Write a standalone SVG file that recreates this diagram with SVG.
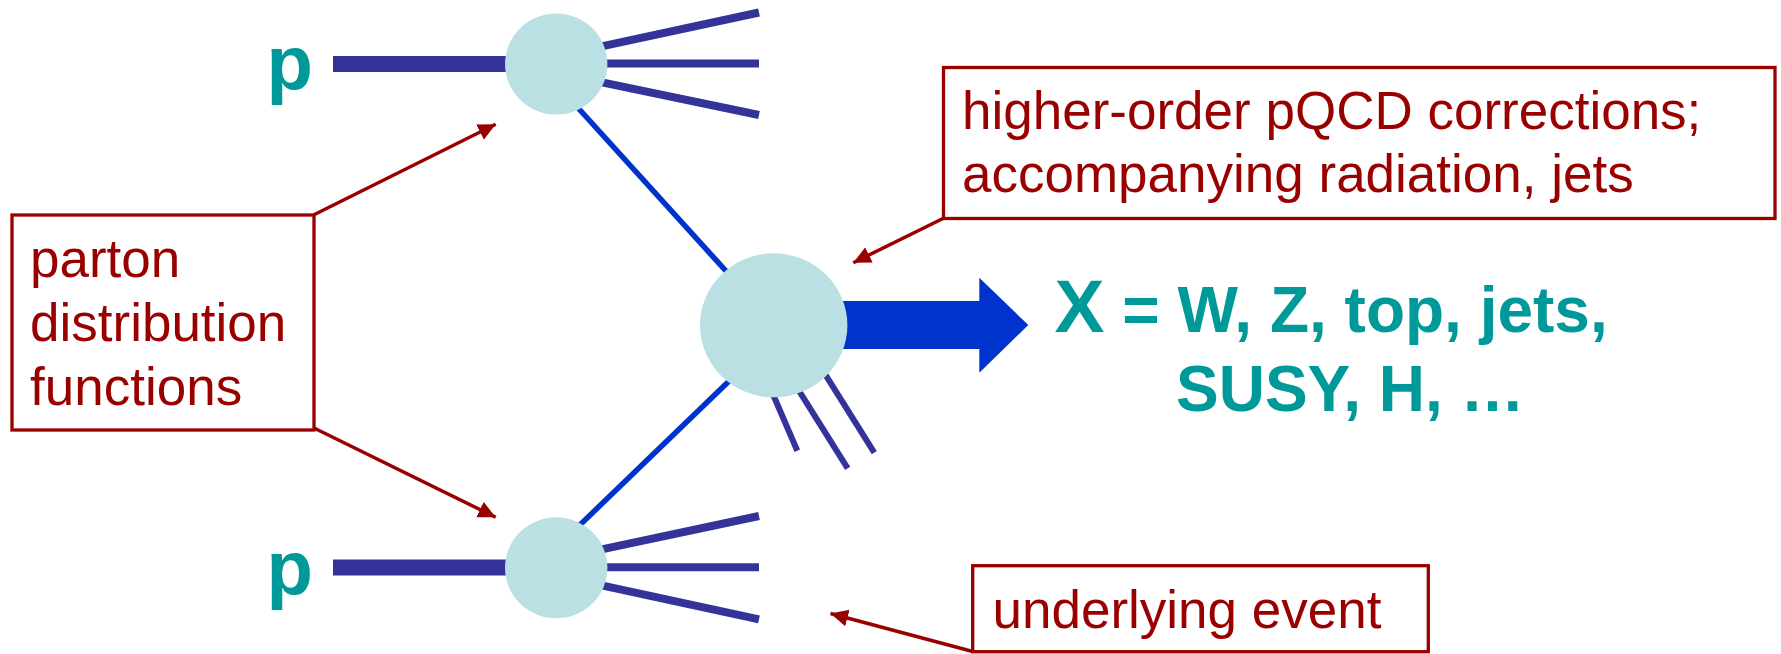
<svg xmlns="http://www.w3.org/2000/svg" width="1781" height="654" viewBox="0 0 1781 654">
  <defs>
    <style>
      .blob { fill: #BAE0E4; }
      .beam { stroke: #333399; stroke-width: 16; fill: none; }
      .jet { stroke: #333399; stroke-width: 8; fill: none; }
      .stub { stroke: #333399; stroke-width: 6; fill: none; }
      .parton { stroke: #0033CC; stroke-width: 5.5; fill: none; }
      .box { fill: #FFFFFF; stroke: #990000; stroke-width: 3.3; }
      .callout { stroke: #990000; stroke-width: 3.5; fill: none; marker-end: url(#ah); }
      .lbl { font-family: "Liberation Sans", Arial, sans-serif; font-size: 53px; fill: #990000; }
      .teal { font-family: "Liberation Sans", Arial, sans-serif; font-weight: bold; fill: #009999; }
    </style>
    <marker id="ah" markerUnits="userSpaceOnUse" markerWidth="19" markerHeight="18" refX="17.5" refY="8.5" orient="auto">
      <path d="M0,0 L17.5,8.5 L0,17 z" fill="#990000"/>
    </marker>
  </defs>

  <g id="connectors">
    <!-- beams -->
    <line class="beam" x1="333" y1="64" x2="530" y2="64"/>
    <line class="beam" x1="333" y1="567.5" x2="530" y2="567.5"/>
    <!-- top jets -->
    <line class="jet" x1="590" y1="48.8" x2="759" y2="12.5"/>
    <line class="jet" x1="590" y1="63.5" x2="759" y2="63.5"/>
    <line class="jet" x1="590" y1="79.9" x2="759" y2="115"/>
    <!-- bottom jets -->
    <line class="jet" x1="590" y1="551.8" x2="759" y2="516"/>
    <line class="jet" x1="590" y1="567.3" x2="759" y2="567.3"/>
    <line class="jet" x1="590" y1="582.9" x2="759" y2="619.3"/>
    <!-- partons -->
    <line class="parton" x1="570" y1="99" x2="740" y2="286.5"/>
    <line class="parton" x1="570" y1="534.5" x2="740" y2="370.5"/>
    <!-- stubs below the hard process -->
    <line class="stub" x1="768" y1="382.7" x2="797.3" y2="450.7"/>
    <line class="stub" x1="792" y1="379.6" x2="847.7" y2="468.3"/>
    <line class="stub" x1="818" y1="362.8" x2="874.3" y2="452.7"/>
    <!-- outgoing X arrow -->
    <polygon points="800,301 979.3,301 979.3,277.7 1028.3,325 979.3,372.7 979.3,349 800,349" fill="#0033CC"/>
    <!-- callout arrows -->
    <line class="callout" x1="313.5" y1="215" x2="495.7" y2="124.3"/>
    <line class="callout" x1="314" y1="428" x2="495.7" y2="517.3"/>
    <line class="callout" x1="943.5" y1="218.3" x2="853.3" y2="262.7"/>
    <line class="callout" x1="972.7" y1="651.5" x2="830.5" y2="613.5"/>
  </g>

  <g id="proton-top">
    <text class="teal" x="266.5" y="89" font-size="76">p</text>
  </g>
  <g id="proton-bottom">
    <text class="teal" x="266.5" y="594" font-size="76">p</text>
  </g>

  <g id="blob-top">
    <ellipse class="blob" cx="556.2" cy="64" rx="51.2" ry="50.5"/>
  </g>
  <g id="blob-bottom">
    <ellipse class="blob" cx="556.2" cy="567.8" rx="51.2" ry="50.5"/>
  </g>
  <g id="blob-hard">
    <ellipse class="blob" cx="773.7" cy="325.3" rx="73.7" ry="72"/>
  </g>

  <g id="label-X">
    <text class="teal" x="1054.5" y="331.7" font-size="64"><tspan font-size="75">X</tspan> = W, Z, top, jets,</text>
    <text class="teal" x="1176" y="411" font-size="64">SUSY, H, …</text>
  </g>

  <g id="box-pdf">
    <rect class="box" x="12" y="215" width="302" height="215"/>
    <text class="lbl" x="30" y="277">parton</text>
    <text class="lbl" x="30" y="341">distribution</text>
    <text class="lbl" x="30" y="404.5">functions</text>
  </g>

  <g id="box-pqcd">
    <rect class="box" x="943.5" y="67.5" width="831.5" height="151"/>
    <text class="lbl" x="962" y="129">higher-order pQCD corrections;</text>
    <text class="lbl" x="962" y="191.7">accompanying radiation, jets</text>
  </g>

  <g id="box-ue">
    <rect class="box" x="972.7" y="565.7" width="455.6" height="86"/>
    <text class="lbl" x="992.5" y="628.3">underlying event</text>
  </g>
</svg>
